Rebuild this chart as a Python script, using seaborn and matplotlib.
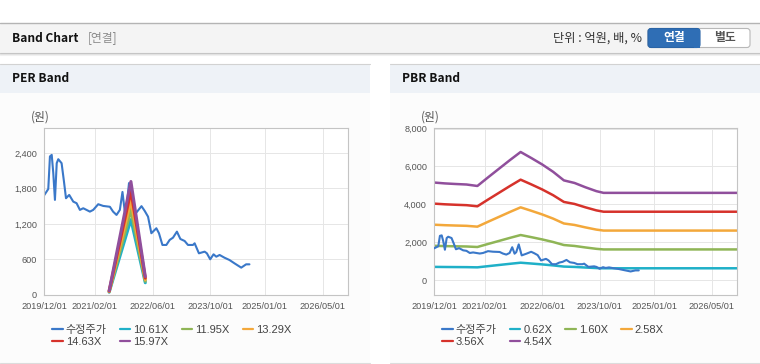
import matplotlib
matplotlib.use('Agg')
import matplotlib.pyplot as plt
import matplotlib.dates as mdates
from matplotlib.patches import Rectangle, FancyBboxPatch
from matplotlib.lines import Line2D
from matplotlib.transforms import IdentityTransform
from matplotlib.ticker import FuncFormatter
import numpy as np
import pandas as pd
import seaborn as sns

# --- 데이터 ---
price_dates = ['2019-12-01', '2020-01-06', '2020-01-20', '2020-02-04', '2020-02-17', '2020-03-02',
               '2020-03-17', '2020-03-30', '2020-04-27', '2020-05-17', '2020-06-03', '2020-06-30',
               '2020-08-03', '2020-08-31', '2020-09-28', '2020-10-26', '2020-12-21', '2021-01-18',
               '2021-03-01', '2021-04-12', '2021-06-07', '2021-07-04', '2021-08-02', '2021-08-30',
               '2021-09-21', '2021-10-11', '2021-10-25', '2021-11-15', '2021-12-10', '2022-01-19',
               '2022-02-28', '2022-03-27', '2022-04-24', '2022-05-22', '2022-07-03', '2022-07-25',
               '2022-08-23', '2022-09-25', '2022-10-23', '2022-11-20', '2022-12-23', '2023-01-21',
               '2023-02-26', '2023-03-26', '2023-05-07', '2023-05-21', '2023-06-26', '2023-08-13',
               '2023-09-01', '2023-09-29', '2023-10-27', '2023-11-19', '2023-12-17', '2024-01-27',
               '2024-03-09', '2024-04-20', '2024-06-16', '2024-07-27', '2024-08-24']
price_values = [1680, 1790, 2340, 2366, 2060, 1606, 2226, 2293, 2226, 1915, 1634, 1690,
                1577, 1550, 1437, 1465, 1408, 1437, 1533, 1504, 1490, 1408, 1352, 1437,
                1740, 1400, 1480, 1890, 1310, 1400, 1500, 1420, 1323, 1043, 1127, 1043,
                845, 845, 930, 968, 1070, 946, 912, 845, 845, 873, 704, 732,
                704, 603, 687, 647, 676, 630, 591, 535, 462, 518, 518]

eps_dates = ['2021-06-01', '2021-12-01', '2022-04-01']
eps_values = [4.5, 120, 19.5]
per_multiples = [10.61, 11.95, 13.29, 14.63, 15.97]

bps_dates = ['2019-12-01', '2020-03-01', '2020-06-01', '2020-09-01', '2020-12-01', '2021-03-01',
             '2021-06-01', '2021-09-01', '2021-12-01', '2022-03-01', '2022-06-01', '2022-09-01',
             '2022-12-01', '2023-03-01', '2023-06-01', '2023-09-01', '2023-11-01', '2026-12-01']
bps_values = [1135, 1125, 1118, 1112, 1095, 1195, 1295, 1395, 1490, 1420, 1345, 1260,
              1160, 1130, 1080, 1035, 1015, 1015]
pbr_multiples = [0.62, 1.60, 2.58, 3.56, 4.54]

x_ticks = ['2019-12-01', '2021-02-01', '2022-06-01', '2023-10-01', '2025-01-01', '2026-05-01']
per_yticks = [0, 600, 1200, 1800, 2400]
pbr_yticks = [0, 2000, 4000, 6000, 8000]

price_color = '#3a78c9'
band_colors = ['#1fb0c8', '#8fb556', '#f3a83b', '#d6322b', '#904f9c']

# --- 스타일 ---
sns.set_style('white')
plt.rcParams['font.family'] = ['Liberation Sans', 'Noto Sans CJK KR', 'DejaVu Sans']
KR = ['Noto Sans CJK KR', 'DejaVu Sans']

W, H = 760, 364
fig = plt.figure(figsize=(W / 100, H / 100), dpi=100)
fig.patch.set_facecolor('white')
ID = IdentityTransform()


def box(x0, y0, x1, y1, fc, ec='none', lw=0):
    fig.patches.append(Rectangle((x0, H - y1), x1 - x0, y1 - y0, facecolor=fc,
                                 edgecolor=ec, linewidth=lw, transform=ID, zorder=-10))


def hline(y, x0, x1, color, lw=0.8):
    fig.add_artist(Line2D([x0, x1], [H - y, H - y], color=color, lw=lw, transform=ID, zorder=-5))


def ftext(x, y, s, **kw):
    fig.text(x / W, 1 - y / H, s, **kw)


# 상단 헤더
box(0, 23, W, 53, '#f4f4f4')
hline(22.5, 0, W, '#b4b4b4', 1.0)
hline(53, 0, W, '#c4c4c4', 0.8)
hline(54, 0, W, '#e2e2e2', 0.8)
hline(55, 0, W, '#f0f0f0', 0.8)
ftext(12, 38, 'Band Chart', family=KR, weight='bold', fontsize=8.6, va='center', color='#111111')
ftext(88, 38, '[연결]', family=KR, fontsize=8.5, va='center', color='#8a8a8a')
ftext(642, 38, '단위 : 억원, 배, %', family=KR, fontsize=8.8, va='center', ha='right', color='#333333')

fig.patches.append(FancyBboxPatch((648, H - 47.5), 102, 19, boxstyle='round,pad=0,rounding_size=3',
                                  facecolor='white', edgecolor='#b8b8b8', linewidth=0.8,
                                  transform=ID, zorder=-4))
fig.patches.append(FancyBboxPatch((648, H - 47.5), 52, 19, boxstyle='round,pad=0,rounding_size=3',
                                  facecolor='#2f6eb5', edgecolor='#2a64a6', linewidth=0.8,
                                  transform=ID, zorder=-3))
fig.patches.append(Rectangle((694, H - 47.5), 6, 19, facecolor='#2f6eb5', edgecolor='none',
                             transform=ID, zorder=-3))
ftext(674, 38, '연결', family=KR, weight='bold', fontsize=8.5, va='center', ha='center', color='white')
ftext(725, 38, '별도', family=KR, weight='bold', fontsize=8.5, va='center', ha='center', color='#555555')

# 패널 배경
for x0, x1, title in [(0, 370, 'PER Band'), (390, W, 'PBR Band')]:
    box(x0, 64, x1, 363, '#fcfcfc')
    box(x0, 64, x1, 93, '#eef2f7')
    hline(64, x0, x1, '#d2d2d2', 0.8)
    hline(362.5, x0, x1, '#dcdcdc', 0.8)
    ftext(x0 + 12, 79, title, family=KR, weight='bold', fontsize=8.6, va='center', color='#111111')

ftext(40, 117, '(원)', family=KR, fontsize=8.5, va='center', ha='center', color='#555555')
ftext(430, 117, '(원)', family=KR, fontsize=8.5, va='center', ha='center', color='#555555')

price_dt = pd.to_datetime(price_dates)
eps_dt = pd.to_datetime(eps_dates)
bps_dt = pd.to_datetime(bps_dates)

ax1 = fig.add_axes([44 / W, 1 - 295 / H, 304 / W, 167 / H])
ax2 = fig.add_axes([434 / W, 1 - 295 / H, 303 / W, 167 / H])

# PER Band
sns.lineplot(x=price_dt, y=price_values, ax=ax1, color=price_color, lw=1.5, label='수정주가')
for m, c in zip(per_multiples, band_colors):
    sns.lineplot(x=eps_dt, y=np.array(eps_values) * m, ax=ax1, color=c, lw=2.2, label=f'{m:.2f}X')

# PBR Band
sns.lineplot(x=price_dt, y=price_values, ax=ax2, color=price_color, lw=1.5, label='수정주가', zorder=3)
for m, c in zip(pbr_multiples, band_colors):
    sns.lineplot(x=bps_dt, y=np.array(bps_values) * m, ax=ax2, color=c, lw=1.8, label=f'{m:.2f}X')

for ax, yt, ylim, lx in [(ax1, per_yticks, (0, 2820), 52), (ax2, pbr_yticks, (-780, 8030), 442)]:
    ax.set_facecolor('white')
    ax.set_xlim(pd.Timestamp('2019-12-01'), pd.Timestamp('2026-12-01'))
    ax.set_ylim(*ylim)
    ax.set_xticks(pd.to_datetime(x_ticks))
    ax.xaxis.set_major_formatter(mdates.DateFormatter('%Y/%m/%d'))
    ax.set_yticks(yt)
    ax.yaxis.set_major_formatter(FuncFormatter(lambda v, p: f'{v:,.0f}'))
    ax.grid(True, color='#e6e6e6', lw=0.7)
    ax.set_axisbelow(True)
    for s in ax.spines.values():
        s.set_color('#c4c4c4')
        s.set_linewidth(0.8)
    ax.tick_params(axis='both', length=3, width=0.7, color='#b0b0b0', labelcolor='#555555',
                   labelsize=6.6, pad=2)
    ax.set_xlabel('')
    ax.set_ylabel('')
    handles, labels = ax.get_legend_handles_labels()
    order = [0, 4, 1, 5, 2, 3]
    leg = ax.legend([handles[i] for i in order], [labels[i] for i in order],
                    loc='upper left', bbox_to_anchor=(lx / W, 1 - 325 / H),
                    bbox_transform=fig.transFigure, ncol=4, frameon=False, fontsize=8,
                    handlelength=0.95, handletextpad=0.3, columnspacing=1.15,
                    labelspacing=0.2, borderpad=0, borderaxespad=0)
    for t in leg.get_texts():
        t.set_color('#444444')
    for ln in leg.get_lines():
        ln.set_linewidth(1.6)

fig.savefig('out.png', dpi=100, facecolor=fig.get_facecolor())
